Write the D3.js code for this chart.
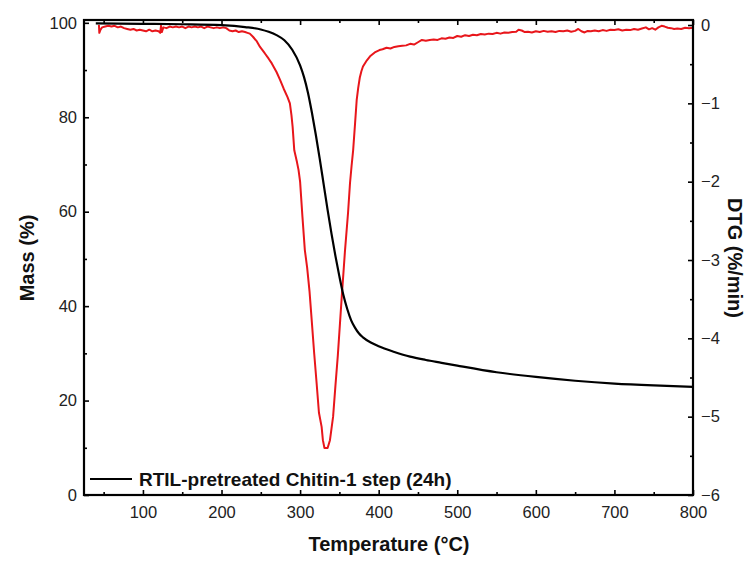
<!DOCTYPE html>
<html><head><meta charset="utf-8">
<script src="https://cdn.jsdelivr.net/npm/d3@7"></script>
<style>body{margin:0;background:#fff;} svg{display:block;}</style>
</head><body>
<svg id="c" width="751" height="561"></svg>
<script>
// ---- data ----
const xTicks = [100,200,300,400,500,600,700,800];
const massTicks = [0,20,40,60,80,100];
const dtgTicks = [0,-1,-2,-3,-4,-5,-6];
const legendLabel = "RTIL-pretreated Chitin-1 step (24h)";
const xTitle = "Temperature (°C)";
const yLeftTitle = "Mass (%)";
const yRightTitle = "DTG (%/min)";

// TGA mass curve: [temperature, mass %]
const massT = [40,100,150,200,230,250,260,270,280,290,300,305,310,315,320,325,330,335,340,345,350,355,360,365,370,375,380,390,400,420,440,460,480,500,550,600,650,700,750,800];
const massV = [99.9,99.8,99.7,99.5,99.1,98.6,98.1,97.4,96.3,94.3,91.0,88.5,85.2,81.0,76.3,71.2,65.8,60.4,55.3,50.6,46.3,42.4,39.4,37.0,35.4,34.2,33.4,32.3,31.5,30.3,29.3,28.6,28.0,27.4,26.0,25.0,24.2,23.6,23.2,22.9];

// DTG curve: [temperature, %/min]
const dtgT = [44,44.5,46,48,52,56,60,64,68,72,76,80,84,88,92,96,100,104,108,112,116,120,122,123,124,126,130,134,138,142,146,150,154,158,162,166,170,174,178,182,186,190,194,198,202,206,210,214,218,222,226,230,233,
236,240,245,249,255,260,264,270,274.5,279,284,287,289,290.5,292.6,296,298,300,303,306,309,312,315,318,321,324,327.4,329,331,335,338,340,342,345,348,350,353,357,361,363.5,365.5,367.5,370,372,374,376,378,380,385,389,395,401,
405,410,415,420,425,430,435,440,445,450,455,460,465,470,475,480,485,490,495,500,505,510,515,520,525,530,535,540,545,550,555,560,565,570,575,578,582,586,590,595,600,605,610,615,620,625,630,635,640,645,650,654,658,662,666,670,675,680,685,690,695,700,705,710,715,720,725,730,735,740,744,748,752,756,760,764,768,772,776,780,785,790,795,800];
const dtgV = [-0.00,-0.10,-0.06,-0.03,-0.02,-0.01,-0.02,-0.01,-0.03,-0.02,-0.04,-0.05,-0.06,-0.05,-0.07,-0.06,-0.07,-0.08,-0.06,-0.08,-0.07,-0.08,-0.10,-0.01,-0.09,-0.03,-0.04,-0.02,-0.03,-0.02,-0.03,-0.02,-0.04,-0.02,-0.03,-0.02,-0.03,-0.02,-0.04,-0.02,-0.03,-0.04,-0.03,-0.04,-0.03,-0.04,-0.07,-0.08,-0.07,-0.09,-0.08,-0.09,-0.10,
-0.11,-0.15,-0.21,-0.28,-0.36,-0.43,-0.49,-0.60,-0.70,-0.81,-0.92,-1.00,-1.15,-1.30,-1.60,-1.75,-1.85,-2.00,-2.45,-2.87,-3.10,-3.40,-3.80,-4.20,-4.57,-4.95,-5.13,-5.30,-5.40,-5.40,-5.30,-5.15,-5.00,-4.60,-4.22,-3.92,-3.47,-2.90,-2.40,-2.02,-1.80,-1.60,-1.25,-0.96,-0.80,-0.67,-0.59,-0.53,-0.45,-0.40,-0.35,-0.32,
-0.31,-0.29,-0.30,-0.28,-0.27,-0.265,-0.26,-0.24,-0.25,-0.22,-0.19,-0.20,-0.19,-0.185,-0.19,-0.17,-0.175,-0.16,-0.165,-0.14,-0.15,-0.13,-0.14,-0.125,-0.13,-0.115,-0.12,-0.11,-0.115,-0.10,-0.11,-0.095,-0.10,-0.09,-0.085,-0.06,-0.07,-0.09,-0.085,-0.095,-0.08,-0.09,-0.075,-0.085,-0.08,-0.09,-0.075,-0.08,-0.07,-0.085,-0.075,-0.05,-0.08,-0.095,-0.075,-0.08,-0.07,-0.08,-0.065,-0.075,-0.06,-0.065,-0.055,-0.07,-0.06,-0.065,-0.05,-0.06,-0.045,-0.03,-0.055,-0.04,-0.06,-0.03,-0.01,-0.02,-0.035,-0.04,-0.05,-0.045,-0.05,-0.035,-0.04,-0.035];

// ---- layout ----
const L = 84, R = 693, T = 20, B = 495;
const svg = d3.select("#c");
const font = "'Liberation Sans', Arial, sans-serif";
const x = d3.scaleLinear().domain([25, 800]).range([L, R]);
const yM = d3.scaleLinear().domain([0, 100.6]).range([B, T]);
const yD = d3.scaleLinear().domain([-6, 0.064]).range([B, T]);

svg.append("defs").append("clipPath").attr("id","clip")
  .append("rect").attr("x", L).attr("y", T).attr("width", R-L).attr("height", B-T);

// data lines
const massData = massT.map((t,i)=>[t, massV[i]]);
const dtgData = dtgT.map((t,i)=>[t, dtgV[i]]);
const g = svg.append("g").attr("clip-path","url(#clip)");
g.append("path").datum(dtgData)
  .attr("fill","none").attr("stroke","#e8161b").attr("stroke-width",2).attr("stroke-linejoin","round")
  .attr("d", d3.line().x(d=>x(d[0])).y(d=>yD(d[1])));
g.append("path").datum(massData)
  .attr("fill","none").attr("stroke","#000").attr("stroke-width",2.2)
  .attr("d", d3.line().curve(d3.curveMonotoneX).x(d=>x(d[0])).y(d=>yM(d[1])));

// axes
function styleAxis(sel){
  sel.select(".domain").remove();
  sel.selectAll("line").attr("stroke","#000").attr("stroke-width",1.6);
  sel.selectAll("text").attr("font-family",font).attr("font-size","16.5px").attr("fill","#222");
}
const xMinor = d3.range(50, 800, 100);
svg.append("g").attr("transform",`translate(0,${B})`)
  .call(d3.axisBottom(x).tickValues(xTicks).tickSize(-5).tickPadding(11).tickFormat(d3.format("d")))
  .call(styleAxis);
svg.append("g").attr("transform",`translate(0,${B})`)
  .call(d3.axisBottom(x).tickValues(xMinor).tickSize(-3).tickFormat("")).call(styleAxis);
svg.append("g").attr("transform",`translate(0,${T})`)
  .call(d3.axisTop(x).tickValues(xTicks).tickSize(-5).tickFormat("")).call(styleAxis);
svg.append("g").attr("transform",`translate(0,${T})`)
  .call(d3.axisTop(x).tickValues(xMinor).tickSize(-3).tickFormat("")).call(styleAxis);

svg.append("g").attr("transform",`translate(${L},0)`)
  .call(d3.axisLeft(yM).tickValues(massTicks).tickSize(-5).tickPadding(7))
  .call(styleAxis);
svg.append("g").attr("transform",`translate(${L},0)`)
  .call(d3.axisLeft(yM).tickValues(d3.range(10,100,20)).tickSize(-3).tickFormat("")).call(styleAxis);

svg.append("g").attr("transform",`translate(${R},0)`)
  .call(d3.axisRight(yD).tickValues(dtgTicks).tickSize(-5).tickPadding(8).tickFormat(d3.format("d")))
  .call(styleAxis);
svg.append("g").attr("transform",`translate(${R},0)`)
  .call(d3.axisRight(yD).tickValues(d3.range(-5.5,0,1)).tickSize(-3).tickFormat("")).call(styleAxis);

// frame
svg.append("rect").attr("x",L).attr("y",T).attr("width",R-L).attr("height",B-T)
  .attr("fill","none").attr("stroke","#000").attr("stroke-width",2.2);

// titles
svg.append("text").attr("x",389).attr("y",551).attr("text-anchor","middle")
  .attr("font-family",font).attr("font-weight","bold").attr("font-size","20px").attr("fill","#111").text(xTitle);
svg.append("text").attr("transform","translate(34,258) rotate(-90)").attr("text-anchor","middle")
  .attr("font-family",font).attr("font-weight","bold").attr("font-size","20px").attr("fill","#111").text(yLeftTitle);
svg.append("text").attr("transform","translate(728,258) rotate(90)").attr("text-anchor","middle")
  .attr("font-family",font).attr("font-weight","bold").attr("font-size","20px").attr("fill","#111").text(yRightTitle);

// legend
svg.append("line").attr("x1",90).attr("x2",132).attr("y1",479).attr("y2",479)
  .attr("stroke","#000").attr("stroke-width",2.2);
svg.append("text").attr("x",139).attr("y",486).attr("font-family",font).attr("font-weight","bold")
  .attr("font-size","19px").attr("fill","#111").text(legendLabel);
</script>
</body></html>
